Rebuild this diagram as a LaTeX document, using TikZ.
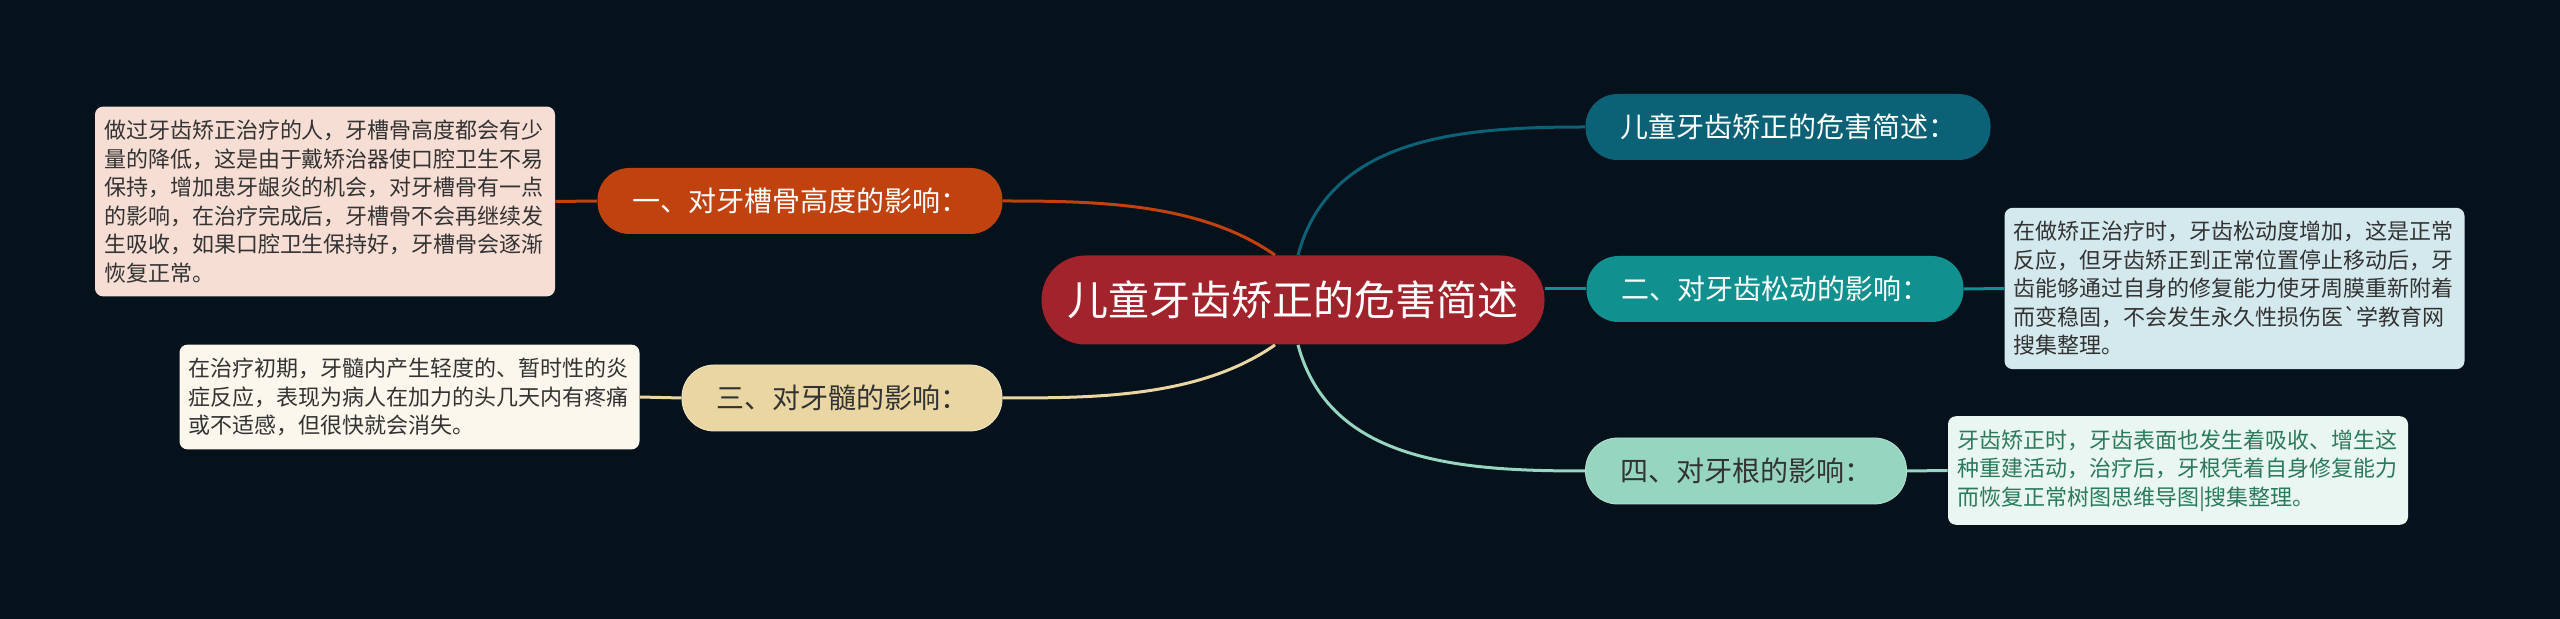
\documentclass[tikz,border=0pt]{standalone}
\usepackage{fontspec}
\setmainfont{Noto Sans CJK SC}
\newfontfamily\plaincjk{Noto Sans CJK SC}

\definecolor{bgdark}{HTML}{05121B}
\definecolor{centerred}{HTML}{A1232B}
\definecolor{topteal}{HTML}{0B6176}
\definecolor{midteal}{HTML}{10918F}
\definecolor{mintgreen}{HTML}{96D5BF}
\definecolor{rust}{HTML}{BF420F}
\definecolor{sand}{HTML}{E9D6A2}
\definecolor{notegray}{HTML}{333333}
\definecolor{notegreen}{HTML}{2B7A5C}

\begin{document}
\begin{tikzpicture}
    [x=0.5pt,y=-0.5pt,
    topic/.style={rounded corners=16pt,minimum height=33pt,inner sep=0pt,font=\fontsize{14}{16}\selectfont},
    note/.style={rounded corners=4pt,align=left,text width=221pt,inner xsep=4.5pt,inner ysep=6.7pt,font=\fontsize{11}{14.25}\selectfont,text=notegray},
    link/.style={line width=1.5pt}]

    \fill[bgdark] (0,0) rectangle (2560,619);
    \useasboundingbox (0,0) rectangle (2560,619);
    %\draw[help lines,step=100] (0,0) grid (2560,619);

    \node[fill=centerred,text=white,rounded corners=22pt,minimum width=251.5pt,minimum height=44.5pt,
          font=\fontsize{20.5}{24}\selectfont] (cen) at (1293,300) {儿童牙齿矫正的危害简述};

    \node[topic,fill=topteal,text=white,minimum width=202.5pt] (intro) at (1788,127) {儿童牙齿矫正的危害简述：};
    \node[topic,fill=midteal,text=white,minimum width=188.5pt] (loose) at (1775,289) {二、对牙齿松动的影响：};
    \node[topic,fill=mintgreen,draw=mintgreen!70!white,text=notegray,minimum width=160.5pt] (root) at (1746,471) {四、对牙根的影响：};
    \node[topic,fill=rust,text=white,minimum width=202.5pt] (bone) at (800,201) {一、对牙槽骨高度的影响：};
    \node[topic,fill=sand,draw=sand!60!white,text=notegray,minimum width=160pt] (pulp) at (842,398) {三、对牙髓的影响：};

    \node[note,fill={rgb,255:red,246;green,222;blue,213}] (bonetxt) at (325,201.5)
        {做过牙齿矫正治疗的人，牙槽骨高度都会有少\\量的降低，这是由于戴矫治器使口腔卫生不易\\保持，增加患牙龈炎的机会，对牙槽骨有一点\\的影响，在治疗完成后，牙槽骨不会再继续发\\生吸收，如果口腔卫生保持好，牙槽骨会逐渐\\恢复正常。};
    \node[note,fill={rgb,255:red,251;green,247;blue,237}] (pulptxt) at (409.5,397)
        {在治疗初期，牙髓内产生轻度的、暂时性的炎\\症反应，表现为病人在加力的头几天内有疼痛\\或不适感，但很快就会消失。};
    \node[note,fill={rgb,255:red,212;green,233;blue,237}] (loosetxt) at (2234.5,288.5)
        {在做矫正治疗时，牙齿松动度增加，这是正常\\反应，但牙齿矫正到正常位置停止移动后，牙\\齿能够通过自身的修复能力使牙周膜重新附着\\而变稳固，不会发生永久性损伤医{\plaincjk`}学教育网\\搜集整理。};
    \node[note,fill={rgb,255:red,234;green,246;blue,241},text=notegreen] (roottxt) at (2178,470.5)
        {牙齿矫正时，牙齿表面也发生着吸收、增生这\\种重建活动，治疗后，牙根凭着自身修复能力\\而恢复正常树图思维导图|搜集整理。};

    \draw[link,topteal] ([xshift=2.5pt]cen.north) to[out=75,in=180] (intro.west);
    \draw[link,midteal] (cen.east |- loose.west) -- (loose.west);
    \draw[link,mintgreen] ([xshift=2.5pt]cen.south) to[out=-75,in=180] (root.west);
    \draw[link,rust] ([xshift=-9pt]cen.north) to[out=145,in=0,looseness=0.85] (bone.east);
    \draw[link,sand] ([xshift=-9pt]cen.south) to[out=-145,in=0,looseness=0.85] (pulp.east);

    \draw[link,rust] (bone.west) -- (bonetxt.east);
    \draw[link,sand] (pulp.west) -- (pulptxt.east);
    \draw[link,midteal] (loose.east) -- (loosetxt.west);
    \draw[link,mintgreen] (root.east) -- (roottxt.west);
\end{tikzpicture}
\end{document}
